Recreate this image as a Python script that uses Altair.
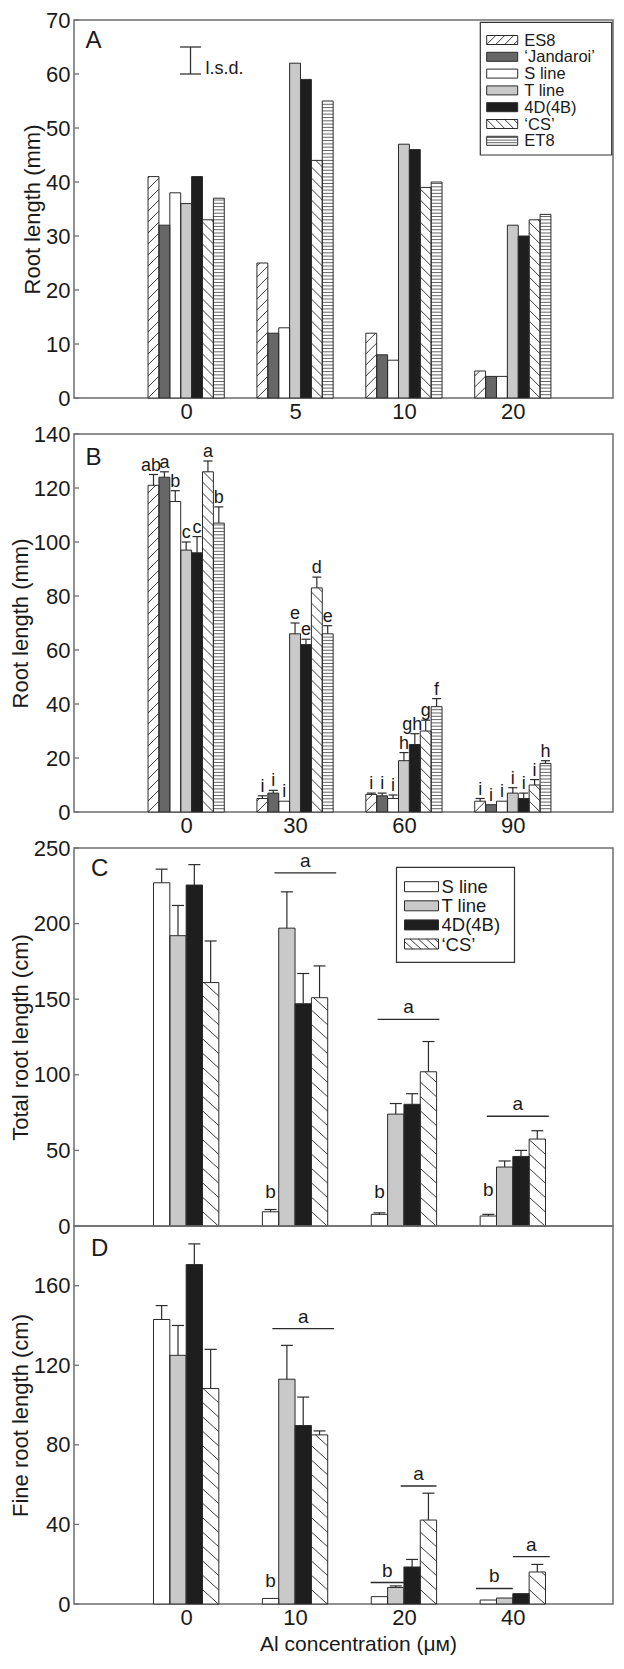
import math
import json
import altair as alt
import pandas as pd

FONT = "Liberation Sans"
INK = "#1a1a1a"
EDGE = "#2b2b2b"
FRAME = "#6e6e6e"

# ---------------- Panel A ----------------
A_CONC = ["0", "5", "10", "20"]
A_SERIES = ["ES8", "‘Jandaroi’", "S line", "T line", "4D(4B)", "‘CS’", "ET8"]
A_ES8 = [41, 25, 12, 5]
A_JANDAROI = [32, 12, 8, 4]
A_SLINE = [38, 13, 7, 4]
A_TLINE = [36, 62, 47, 32]
A_4D4B = [41, 59, 46, 30]
A_CS = [33, 44, 39, 33]
A_ET8 = [37, 55, 40, 34]
A_LSD = [60, 65]
A_TICKS = [0, 10, 20, 30, 40, 50, 60, 70]

# ---------------- Panel B ----------------
B_CONC = ["0", "30", "60", "90"]
B_ES8 = [121, 5, 6.5, 4]
B_JANDAROI = [124, 7, 6, 2.7]
B_SLINE = [115, 4, 5, 4]
B_TLINE = [97, 66, 19, 7]
B_4D4B = [96, 62, 25, 5]
B_CS = [126, 83, 30, 10]
B_ET8 = [107, 66, 39, 18]
B_ES8_ERR = [125, 6, 7, 5]
B_JANDAROI_ERR = [126, 8, 7, 2.7]
B_SLINE_ERR = [119, 4, 6.3, 4]
B_TLINE_ERR = [100, 70, 22, 9]
B_4D4B_ERR = [102, 64, 29, 7]
B_CS_ERR = [130, 87, 34, 12]
B_ET8_ERR = [113, 69, 42, 19]
B_ES8_LET = ["ab", "i", "i", "i"]
B_JANDAROI_LET = ["a", "i", "i", "i"]
B_SLINE_LET = ["b", "i", "i", "i"]
B_TLINE_LET = ["c", "e", "h", "i"]
B_4D4B_LET = ["c", "e", "gh", "i"]
B_CS_LET = ["a", "d", "g", "i"]
B_ET8_LET = ["b", "e", "f", "h"]
B_TICKS = [0, 20, 40, 60, 80, 100, 120, 140]

# ---------------- Panel C ----------------
C_CONC = ["0", "10", "20", "40"]
C_SERIES = ["S line", "T line", "4D(4B)", "‘CS’"]
C_SLINE = [227, 9.4, 7.7, 6.6]
C_TLINE = [192, 197, 74, 39]
C_4D4B = [225.5, 147, 80.5, 46]
C_CS = [161, 151, 102, 57.5]
C_SLINE_ERR = [236, 10.9, 8.7, 7.7]
C_TLINE_ERR = [212, 221, 81, 43]
C_4D4B_ERR = [239, 167, 87.5, 50]
C_CS_ERR = [188.5, 172, 122, 63]
C_TICKS = [0, 50, 100, 150, 200, 250]
C_BRACKET_GROUP = [1, 2, 3]
C_BRACKET_FROM = [-1.26, -1.61, -1.59]
C_BRACKET_TO = [2.52, 2.17, 2.2]
C_BRACKET_Y = [233.6, 136.7, 72.6]
C_BRACKET_LET = ["a", "a", "a"]
C_SLET_GROUP = [1, 2, 3]
C_SLET_Y = [18.6, 18.6, 19.7]
C_SLET = ["b", "b", "b"]

# ---------------- Panel D ----------------
D_CONC = ["0", "10", "20", "40"]
D_SLINE = [143, 2.8, 3.7, 2]
D_TLINE = [125, 113, 8.3, 3]
D_4D4B = [170.6, 89.7, 18.6, 5.2]
D_CS = [108.3, 85, 42.2, 16.1]
D_SLINE_ERR = [150, 2.8, 3.7, 2]
D_TLINE_ERR = [140, 130, 9.1, 3]
D_4D4B_ERR = [181, 104, 22.4, 5.2]
D_CS_ERR = [128, 87, 55.7, 19.9]
D_TICKS = [0, 40, 80, 120, 160]
D_BRACKET_GROUP = [1, 2, 2, 3, 3]
D_BRACKET_FROM = [-1.39, -2.04, -0.2, -2.26, 0.0]
D_BRACKET_TO = [2.39, 0.0, 1.99, 0.0, 2.26]
D_BRACKET_Y = [138.4, 10.8, 59.3, 7.8, 23.8]
D_BRACKET_LET = ["a", "b", "a", "b", "a"]
D_SLET_GROUP = [1]
D_SLET_Y = [8.3]
D_SLET = ["b"]

# ---------------- layout / style ----------------
W, H = 539, 378
XMIN, XMAX = -0.03, 4.92
PPX = W / (XMAX - XMIN)
GAP = 36
FILL = ["#ffffff", "#676767", "#ffffff", "#c9c9c9", "#1e1e1e", "#ffffff", "#ffffff"]
FILL_OF = dict(zip(A_SERIES, FILL))
HATCH_AB = {"ES8": (1.0, 11.0), "‘CS’": (-1.0, 11.0), "ET8": (0.0, 3.3)}
HATCH_CD = {"‘CS’": (-0.91, 14.4)}
DUMMY = pd.DataFrame({"d": [0]})


def segments(x0, x1, y0, y1, m, sp):
    """hatch segments inside a box (y upward), slope m, vertical spacing sp"""
    out = []
    w = x1 - x0
    if y1 - y0 < 0.5 or w <= 0:
        return out
    if m == 0:
        y = y0 + sp
        while y < y1 - 0.6:
            out.append((x0, y, x1, y))
            y += sp
        return out
    if m > 0:
        cmin, cmax = y0 - m * w, y1
    else:
        cmin, cmax = y0, y1 - m * w
    k = math.floor((cmin - y0) / sp)
    c = y0 + k * sp
    while c <= cmax:
        if m > 0:
            ua, ub = max(0.0, (y0 - c) / m), min(w, (y1 - c) / m)
        else:
            ua, ub = max(0.0, (y1 - c) / m), min(w, (y0 - c) / m)
        if ub - ua > 0.4:
            out.append((x0 + ua, c + m * ua, x0 + ub, c + m * ub))
        c += sp
    return out


def XQ(field, axis=alt.Undefined):
    return alt.X(f"{field}:Q", scale=alt.Scale(domain=[XMIN, XMAX], nice=False, zero=False), axis=axis)


def YQ(field, ymax, axis=alt.Undefined):
    return alt.Y(f"{field}:Q", scale=alt.Scale(domain=[0, ymax], nice=False), axis=axis)


def x_axis(labels, title=None, **kw):
    return alt.Axis(values=[1, 2, 3, 4], labelExpr=json.dumps(labels) + "[datum.value - 1]",
                    title=title, **kw)


def legend_layers(series, box, sx0, sx1, row0, step, sh, tx, fs, hatch):
    layers = [alt.Chart(DUMMY).mark_rect(fill="white", stroke="#333333", strokeWidth=1.2).encode(
        x=alt.value(box[0]), x2=alt.value(box[2]), y=alt.value(box[1]), y2=alt.value(box[3]))]
    for i, s in enumerate(series):
        yc = row0 + i * step
        top, bot = yc - sh / 2, yc + sh / 2
        layers.append(alt.Chart(DUMMY).mark_rect(fill=FILL_OF[s], stroke=EDGE, strokeWidth=1).encode(
            x=alt.value(sx0), x2=alt.value(sx1), y=alt.value(top), y2=alt.value(bot)))
        if s in hatch:
            m, sp = hatch[s]
            col = "#555555" if m == 0 else "#262626"
            for a, b, c, d in segments(0.0, sx1 - sx0, 0.0, sh, m, sp):
                layers.append(alt.Chart(DUMMY).mark_rule(stroke=col, strokeWidth=0.9).encode(
                    x=alt.value(sx0 + a), x2=alt.value(sx0 + c), y=alt.value(bot - b), y2=alt.value(bot - d)))
        layers.append(alt.Chart(DUMMY).mark_text(font=FONT, fontSize=fs, align="left", baseline="middle",
                                                 color=INK).encode(
            x=alt.value(tx), y=alt.value(yc + 0.5), text=alt.value(s)))
    return layers


def build_panel(series, vals, errs, lets, bw, ymax, ticks, ytitle, xaxis, letter, lpos, hatch, cap,
                extra=None):
    ppy = H / ymax
    n = len(series)
    rows = []
    for j, s in enumerate(series):
        for g in range(4):
            x0 = (g + 1) + (j - n / 2) * bw
            rows.append({"series": s, "v": vals[j][g],
                         "top": errs[j][g] if errs else vals[j][g],
                         "let": lets[j][g] if lets else "",
                         "x0": x0, "x1": x0 + bw, "xc": x0 + bw / 2})
    bdf = pd.DataFrame(rows)
    hrows = []
    for r in rows:
        if r["series"] in hatch:
            m, sp = hatch[r["series"]]
            for a, b, c, d in segments(r["x0"] * PPX, r["x1"] * PPX, 0.0, r["v"] * ppy, m, sp):
                hrows.append({"hx0": a / PPX, "hy0": b / ppy, "hx1": c / PPX, "hy1": d / ppy,
                              "kind": "h" if m == 0 else "d"})
    hdf = pd.DataFrame(hrows)

    yaxis = alt.Axis(values=ticks, title=ytitle)
    layers = [
        alt.Chart(bdf).mark_rect(strokeWidth=0).encode(
            x=XQ("x0", xaxis), x2="x1", y=YQ("v", ymax, yaxis), y2=alt.datum(0),
            fill=alt.Fill("series:N", scale=alt.Scale(domain=A_SERIES, range=FILL), legend=None)),
        alt.Chart(hdf).mark_rule(strokeWidth=0.9).encode(
            x=XQ("hx0"), x2="hx1", y=YQ("hy0", ymax), y2="hy1",
            stroke=alt.Stroke("kind:N", scale=alt.Scale(domain=["d", "h"], range=["#262626", "#555555"]),
                              legend=None)),
        alt.Chart(bdf).mark_rect(fillOpacity=0, stroke=EDGE, strokeWidth=1).encode(
            x=XQ("x0"), x2="x1", y=YQ("v", ymax), y2=alt.datum(0)),
    ]
    if errs:
        layers += [
            alt.Chart(bdf).transform_filter("datum.top > datum.v").mark_rule(
                stroke=EDGE, strokeWidth=1.2).encode(x=XQ("xc"), y=YQ("v", ymax), y2="top"),
            alt.Chart(bdf).transform_filter("datum.top > datum.v").mark_rule(
                stroke=EDGE, strokeWidth=1.2, xOffset=-cap / 2, x2Offset=cap / 2).encode(
                x=XQ("xc"), x2="xc", y=YQ("top", ymax)),
        ]
    if lets:
        layers.append(alt.Chart(bdf).transform_filter("length(datum.let) == 1").mark_text(
            font=FONT, fontSize=18, baseline="alphabetic", dy=-4, color=INK).encode(
            x=XQ("xc"), y=YQ("top", ymax), text="let:N"))
        layers.append(alt.Chart(bdf).transform_filter("length(datum.let) > 1").mark_text(
            font=FONT, fontSize=18, baseline="alphabetic", align="right", dx=2, dy=-4, color=INK).encode(
            x=XQ("x1"), y=YQ("top", ymax), text="let:N"))
    layers.append(alt.Chart(pd.DataFrame({"t": ticks})).mark_rule(stroke=FRAME, strokeWidth=1.3).encode(
        x=alt.value(0), x2=alt.value(5), y=YQ("t", ymax)))
    layers.append(alt.Chart(DUMMY).mark_text(font=FONT, fontSize=24, align="left", baseline="alphabetic",
                                             color=INK).encode(
        x=alt.value(lpos[0]), y=alt.value(lpos[1]), text=alt.value(letter)))
    if extra:
        layers += extra(ppy)
    return alt.layer(*layers).properties(width=W, height=H)


def bracket_layers(groups, frm, to, ys, letters, slet_g, slet_y, slet, ymax, bw):
    br = pd.DataFrame({"g": groups, "f": frm, "t": to, "by": ys, "let": letters})
    br["bx0"] = br["g"] + 1 + br["f"] * bw
    br["bx1"] = br["g"] + 1 + br["t"] * bw
    br["bxc"] = (br["bx0"] + br["bx1"]) / 2
    sl = pd.DataFrame({"g": slet_g, "sy": slet_y, "let": slet})
    sl["sx"] = sl["g"] + 1 - 1.5 * bw
    return [
        alt.Chart(br).mark_rule(stroke=EDGE, strokeWidth=1.3).encode(
            x=XQ("bx0"), x2="bx1", y=YQ("by", ymax)),
        alt.Chart(br).mark_text(font=FONT, fontSize=19, baseline="alphabetic", dy=-6, color=INK).encode(
            x=XQ("bxc"), y=YQ("by", ymax), text="let:N"),
        alt.Chart(sl).mark_text(font=FONT, fontSize=19, baseline="alphabetic", color=INK).encode(
            x=XQ("sx"), y=YQ("sy", ymax), text="let:N"),
    ]


# ---------- panel A ----------
def extra_a(ppy):
    lx = 1.04
    lsd = pd.DataFrame({"lx": [lx], "lo": [A_LSD[0]], "hi": [A_LSD[1]]})
    out = [
        alt.Chart(lsd).mark_rule(stroke="#333333", strokeWidth=1.3).encode(x=XQ("lx"), y=YQ("lo", 70), y2="hi"),
        alt.Chart(lsd).mark_rule(stroke="#333333", strokeWidth=1.3, xOffset=-10.5, x2Offset=10.5).encode(
            x=XQ("lx"), x2="lx", y=YQ("lo", 70)),
        alt.Chart(lsd).mark_rule(stroke="#333333", strokeWidth=1.3, xOffset=-10.5, x2Offset=10.5).encode(
            x=XQ("lx"), x2="lx", y=YQ("hi", 70)),
        alt.Chart(lsd).mark_text(font=FONT, fontSize=18, align="left", baseline="alphabetic", dx=15,
                                 color=INK).encode(x=XQ("lx"), y=YQ("lo", 70), text=alt.value("l.s.d.")),
    ]
    out += legend_layers(A_SERIES, (406.3, 2.3, 537.7, 135.0), 412.7, 443.7, 20.0, 16.8, 9.0, 450.3, 16.5,
                         {"ES8": (1.0, 9.0), "‘CS’": (-1.0, 9.0), "ET8": (0.0, 2.6)})
    return out


pA = build_panel(A_SERIES, [A_ES8, A_JANDAROI, A_SLINE, A_TLINE, A_4D4B, A_CS, A_ET8], None, None, 0.1, 70,
                 A_TICKS, "Root length (mm)", x_axis(A_CONC), "A", (11.5, 27.6), HATCH_AB, 0, extra_a)

# ---------- panel B ----------
pB = build_panel(A_SERIES, [B_ES8, B_JANDAROI, B_SLINE, B_TLINE, B_4D4B, B_CS, B_ET8],
                 [B_ES8_ERR, B_JANDAROI_ERR, B_SLINE_ERR, B_TLINE_ERR, B_4D4B_ERR, B_CS_ERR, B_ET8_ERR],
                 [B_ES8_LET, B_JANDAROI_LET, B_SLINE_LET, B_TLINE_LET, B_4D4B_LET, B_CS_LET, B_ET8_LET],
                 0.1, 140, B_TICKS, "Root length (mm)", x_axis(B_CONC), "B", (11.5, 31.4), HATCH_AB, 9)


# ---------- panel C ----------
def extra_c(ppy):
    out = bracket_layers(C_BRACKET_GROUP, C_BRACKET_FROM, C_BRACKET_TO, C_BRACKET_Y, C_BRACKET_LET,
                         C_SLET_GROUP, C_SLET_Y, C_SLET, 250, 0.15)
    out += legend_layers(C_SERIES, (322.5, 19.4, 440.5, 114.4), 330.5, 364.5, 38.7, 19.1, 10.0, 367.5, 18.5,
                         {"‘CS’": (-0.91, 7.5)})
    return out


pC = build_panel(C_SERIES, [C_SLINE, C_TLINE, C_4D4B, C_CS], [C_SLINE_ERR, C_TLINE_ERR, C_4D4B_ERR, C_CS_ERR],
                 None, 0.15, 250, C_TICKS, "Total root length (cm)",
                 alt.Axis(values=[1, 2, 3, 4], labels=False, title=None),
                 "C", (17, 27.7), HATCH_CD, 12, extra_c)


# ---------- panel D ----------
def extra_d(ppy):
    return bracket_layers(D_BRACKET_GROUP, D_BRACKET_FROM, D_BRACKET_TO, D_BRACKET_Y, D_BRACKET_LET,
                          D_SLET_GROUP, D_SLET_Y, D_SLET, 190, 0.15)


pD = build_panel(C_SERIES, [D_SLINE, D_TLINE, D_4D4B, D_CS], [D_SLINE_ERR, D_TLINE_ERR, D_4D4B_ERR, D_CS_ERR],
                 None, 0.15, 190, D_TICKS, "Fine root length (cm)",
                 x_axis(D_CONC, "Al concentration (μᴍ)", titleX=284, titlePadding=5, titleFontSize=21),
                 "D", (17, 30), HATCH_CD, 12, extra_d)

chart = alt.vconcat(
    pA, pB, alt.vconcat(pC, pD, spacing=0, bounds="flush"),
    spacing=GAP, bounds="flush",
).properties(
    padding={"left": 0, "top": 0, "right": 0, "bottom": 0}
).configure_view(
    stroke=FRAME, strokeWidth=1.5
).configure_axis(
    labelFont=FONT, titleFont=FONT, labelFontSize=22, titleFontSize=22, labelColor=INK, titleColor=INK,
    titleFontWeight="normal", grid=False, ticks=False, domain=False
).configure_axisX(
    labelPadding=3
).configure_axisY(
    labelPadding=4, titlePadding=1
)

chart.save("out.html", embed_options={"renderer": "svg", "actions": False})
